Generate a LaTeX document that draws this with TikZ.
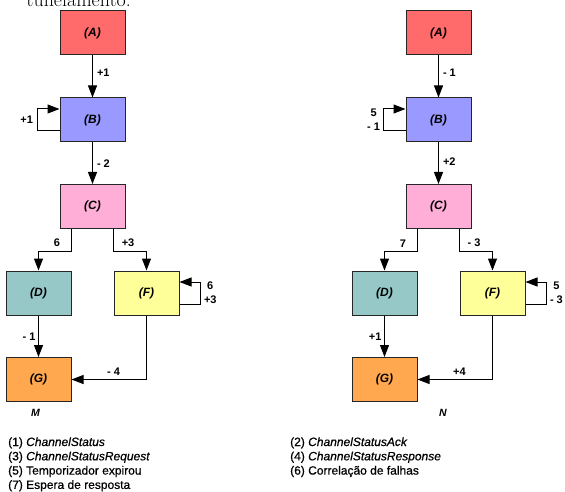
\documentclass[tikz,border=0pt]{standalone}
\usepackage{fontspec}
\newfontfamily\hel{Liberation Sans}
\newfontfamily\helleg{Liberation Sans}[FakeBold=0.6]
\usetikzlibrary{arrows.meta,calc}
\definecolor{cA}{HTML}{FF6B6B}
\definecolor{cB}{HTML}{9999FF}
\definecolor{cC}{HTML}{FFAED8}
\definecolor{cD}{HTML}{96C8C8}
\definecolor{cF}{HTML}{FFFF99}
\definecolor{cG}{HTML}{FFA850}
\begin{document}
\begin{tikzpicture}[x=1pt,y=-1pt,
  box/.style={draw=black!85, line width=1pt, minimum width=65pt, minimum height=44pt, inner sep=0pt,
    font=\hel\bfseries\itshape\fontsize{12}{14}\selectfont},
  lab/.style={font=\hel\bfseries\fontsize{11}{14}\selectfont, inner sep=1pt},
  arr/.style={draw=black, line width=1pt, -{Triangle[length=12pt,width=9pt]}},
  leg/.style={anchor=base west, inner sep=0pt, font=\helleg\fontsize{12}{14}\selectfont},
  captext/.style={font=\hel\bfseries\itshape\fontsize{10.5}{12}\selectfont, inner sep=0pt}]
\useasboundingbox (0,0) rectangle (565,492);
\clip (0,0) rectangle (565,492);
\node[anchor=base east, inner sep=0pt, font=\fontsize{20}{24}\selectfont] (top) at (131,6.5) {tunelamento.};
% ---------- left diagram (M)
\node[box, fill=cA] (A1) at (92.5,33) {(A)};
\node[box, fill=cB] (B1) at (92.5,120) {(B)};
\node[box, fill=cC] (C1) at (92.5,206.5) {(C)};
\node[box, fill=cD] (D1) at (38.5,293) {(D)};
\node[box, fill=cF] (F1) at (146.5,293) {(F)};
\node[box, fill=cG] (G1) at (38.5,379.5) {(G)};
\draw[arr] (A1) -- (B1) node[lab, pos=0.4, right=3pt] {+1};
\draw[arr] ($(B1.west)+(0,11)$) -- ++(-22,0) |- ($(B1.west)+(0,-11)$) node[lab, pos=0.25, left=3pt] {+1};
\draw[arr] (B1) -- (C1) node[lab, pos=0.5, right=3pt] {- 2};
\draw[arr] (C1.south -| D1.east) -- ++(0,22) -| (D1.north) node[lab, pos=0.22, above=2.5pt] {6};
\draw[arr] (C1.south -| F1.west) -- ++(0,22) -| (F1.north) node[lab, pos=0.22, above=2.5pt] {+3};
\draw[arr] ($(F1.east)+(0,11)$) -- ++(21,0) |- ($(F1.east)+(0,-11)$) node[lab, pos=0.25, right=2pt, align=center] {6\\+3};
\draw[arr] (D1) -- (G1) node[lab, pos=0.5, left=1.5pt] {- 1};
\draw[arr] (F1.south) |- (G1.east) node[lab, pos=0.72, above=2.5pt] {- 4};
\node[captext] (M) at (35.5,412.5) {M};
% ---------- right diagram (N)
\node[box, fill=cA] (A2) at (438.5,33) {(A)};
\node[box, fill=cB] (B2) at (438.5,120) {(B)};
\node[box, fill=cC] (C2) at (438.5,206.5) {(C)};
\node[box, fill=cD] (D2) at (384.5,293) {(D)};
\node[box, fill=cF] (F2) at (492.5,293) {(F)};
\node[box, fill=cG] (G2) at (384.5,379.5) {(G)};
\draw[arr] (A2) -- (B2) node[lab, pos=0.4, right=3pt] {- 1};
\draw[arr] ($(B2.west)+(0,11)$) -- ++(-22,0) |- ($(B2.west)+(0,-11)$) node[lab, pos=0.25, left=2pt, align=center] {5\\- 1};
\draw[arr] (B2) -- (C2) node[lab, pos=0.45, right=3pt] {+2};
\draw[arr] (C2.south -| D2.east) -- ++(0,22) -| (D2.north) node[lab, pos=0.22, above=2.5pt] {7};
\draw[arr] (C2.south -| F2.west) -- ++(0,22) -| (F2.north) node[lab, pos=0.22, above=2.5pt] {- 3};
\draw[arr] ($(F2.east)+(0,11)$) -- ++(21,0) |- ($(F2.east)+(0,-11)$) node[lab, pos=0.25, right=2pt, align=center] {5\\- 3};
\draw[arr] (D2) -- (G2) node[lab, pos=0.5, left=1.5pt] {+1};
\draw[arr] (F2.south) |- (G2.east) node[lab, pos=0.72, above=2.5pt] {+4};
\node[captext] (N) at (443,413) {N};
% ---------- legend
\node[leg] (l1) at (8,446) {(1) \itshape ChannelStatus};
\node[leg] (l3) at (8,460.3) {(3) \itshape ChannelStatusRequest};
\node[leg] (l5) at (8,474.6) {(5) Temporizador expirou};
\node[leg] (l7) at (8,488.9) {(7) Espera de resposta};
\node[leg] (l2) at (290,446) {(2) \itshape ChannelStatusAck};
\node[leg] (l4) at (290,460.3) {(4) \itshape ChannelStatusResponse};
\node[leg] (l6) at (290,474.6) {(6) Correlação de falhas};
\end{tikzpicture}
\end{document}
